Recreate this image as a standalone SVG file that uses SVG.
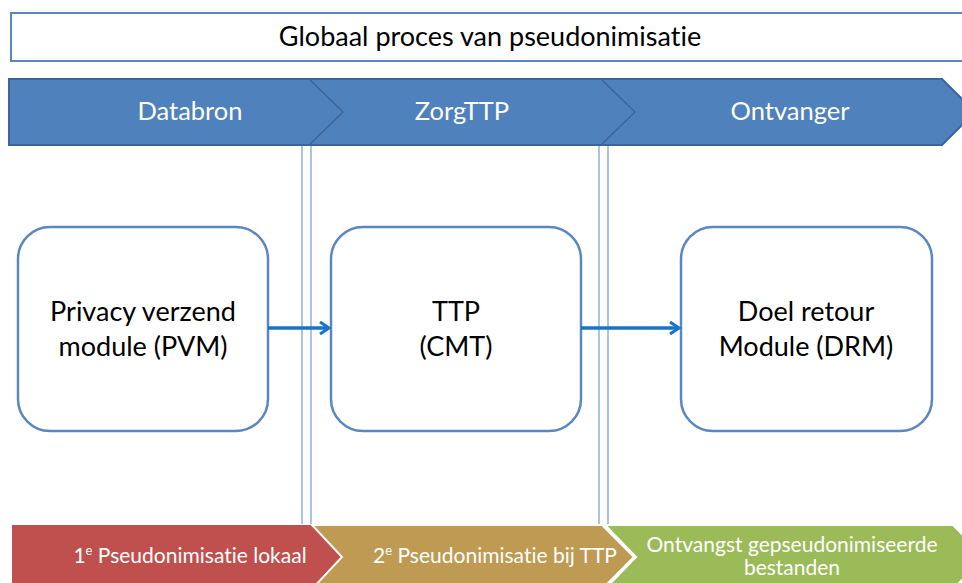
<svg xmlns="http://www.w3.org/2000/svg" width="962" height="583" viewBox="0 0 962 583">
<style>
.t{font-family:Lato,"Liberation Sans",sans-serif;font-variant-ligatures:none;font-feature-settings:"liga" 0,"clig" 0,"dlig" 0}
.node rect{fill:#fff;stroke:#5B87C1;stroke-width:2.5}
.node text{font-size:27px;fill:#000;text-anchor:middle}
.hdr{font-size:25.5px;fill:#fff;text-anchor:middle}
.bot{font-size:21px;fill:#fff;text-anchor:middle}
.vl{stroke:#8EB0DB;stroke-width:1.5}
.conn{stroke:#1874C6;stroke-width:3.5;fill:none}
</style>
<defs>
<marker id="ah" markerWidth="14" markerHeight="14" refX="10" refY="7" orient="auto" markerUnits="userSpaceOnUse">
<path d="M1,1 L10,7 L1,13" fill="none" stroke="#1874C6" stroke-width="3"/>
</marker>
</defs>
<rect width="962" height="583" fill="#fff"/>
<g id="title">
<rect x="11" y="13" width="960" height="48" fill="#fff" stroke="#5B87C1" stroke-width="2"/>
<text class="t" x="490" y="46" font-size="27" text-anchor="middle" fill="#000">Globaal proces van pseudonimisatie</text>
</g>
<g id="header">
<polygon points="9,79 942,79 975,112 942,145 9,145" fill="#4F81BD" stroke="#3C6699" stroke-width="2"/>
<polyline points="310,80 343,112 310,144" fill="none" stroke="#3C6699" stroke-width="1.5"/>
<polyline points="602,80 635,112 602,144" fill="none" stroke="#3C6699" stroke-width="1.5"/>
<text class="t hdr" x="190" y="120">Databron</text>
<text class="t hdr" x="462" y="120">ZorgTTP</text>
<text class="t hdr" x="790" y="120">Ontvanger</text>
</g>
<g id="separators">
<line class="vl" x1="302" y1="146" x2="302" y2="524"/>
<line class="vl" x1="311" y1="146" x2="311" y2="524"/>
<line class="vl" x1="599" y1="146" x2="599" y2="524"/>
<line class="vl" x1="608" y1="146" x2="608" y2="524"/>
</g>
<g id="pvm" class="node">
<rect x="18" y="227" width="250" height="204" rx="32"/>
<text class="t" x="143" y="321">Privacy verzend</text>
<text class="t" x="143" y="356">module (PVM)</text>
</g>
<g id="ttp" class="node">
<rect x="331" y="227" width="250" height="204" rx="32"/>
<text class="t" x="456" y="321">TTP</text>
<text class="t" x="456" y="356">(CMT)</text>
</g>
<g id="drm" class="node">
<rect x="681" y="227" width="251" height="204" rx="32"/>
<text class="t" x="806" y="321">Doel retour</text>
<text class="t" x="806" y="356">Module (DRM)</text>
</g>
<g id="connectors">
<line class="conn" x1="268" y1="328" x2="329" y2="328" marker-end="url(#ah)"/>
<line class="conn" x1="581" y1="328" x2="679" y2="328" marker-end="url(#ah)"/>
</g>
<g id="phases">
<polygon points="12,525 312,525 342,557 312,589 12,589" fill="#C0504D"/>
<polygon points="312,525 602,525 634,557 602,589 312,589 342,557" fill="#BE9A53" stroke="#fff" stroke-width="2"/>
<polygon points="605,525 953,525 985,557 953,589 605,589 636,557" fill="#9BBB59" stroke="#fff" stroke-width="2"/>
<text class="t bot" x="190" y="563">1<tspan font-size="13" dy="-8">e</tspan><tspan dy="8"> Pseudonimisatie lokaal</tspan></text>
<text class="t bot" x="495" y="563">2<tspan font-size="13" dy="-8">e</tspan><tspan dy="8"> Pseudonimisatie bij TTP</tspan></text>
<text class="t bot" x="792" y="552">Ontvangst gepseudonimiseerde</text>
<text class="t bot" x="792" y="575">bestanden</text>
</g>
</svg>
